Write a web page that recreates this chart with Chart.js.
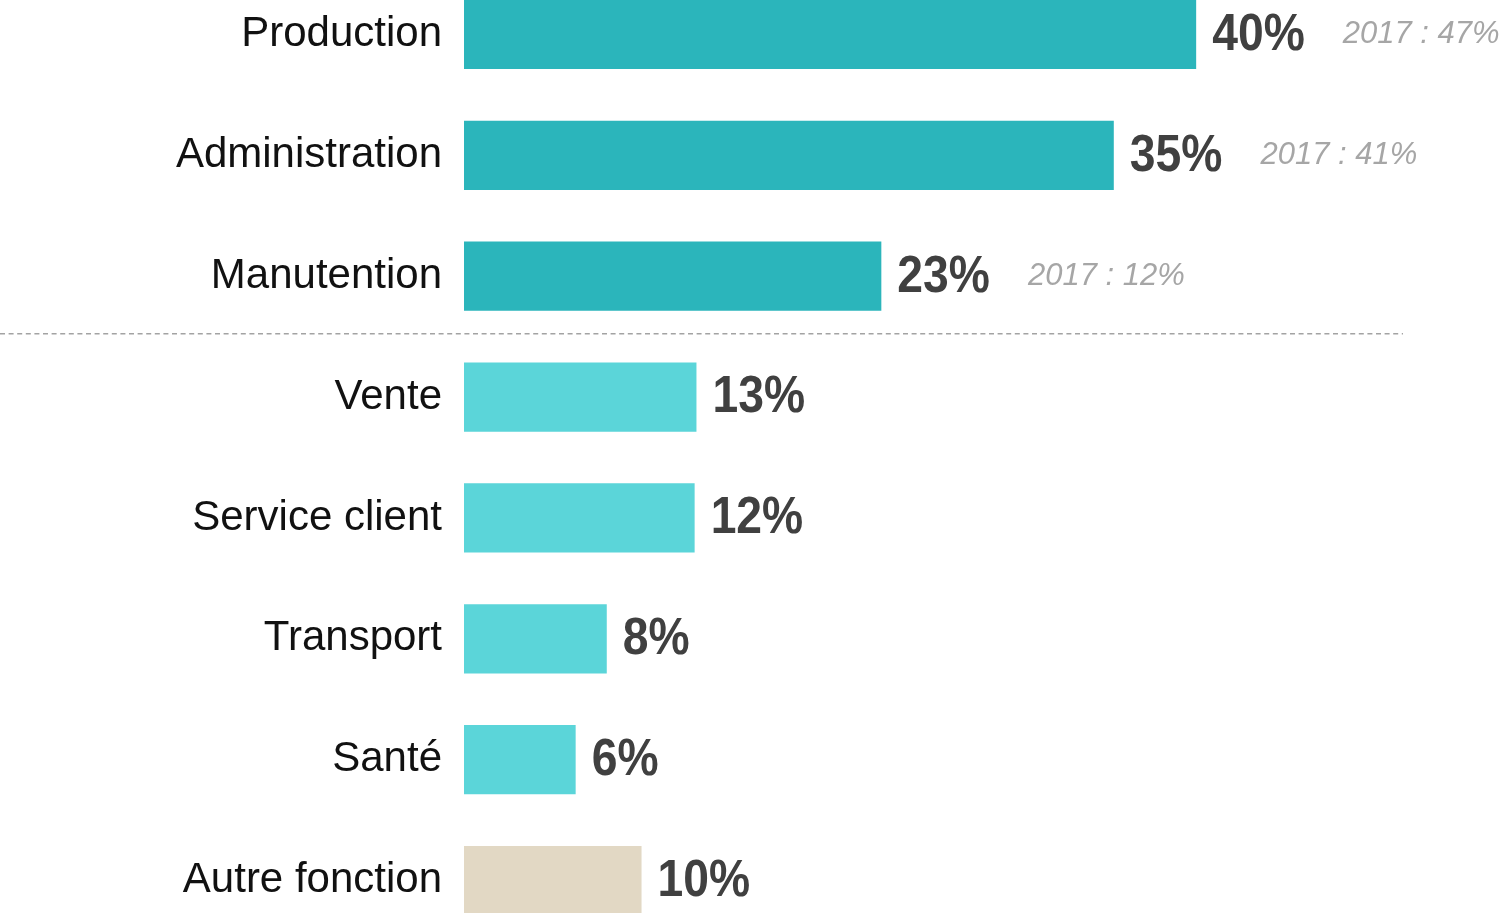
<!DOCTYPE html>
<html><head><meta charset="utf-8">
<script src="https://cdn.jsdelivr.net/npm/chart.js@4"></script>
<style>
html,body{margin:0;padding:0;overflow:hidden;background:#fff;width:1512px;height:913px}
#wrap{position:absolute;left:0;top:-26px;width:1512px;height:967px}
</style></head><body>
<div id="wrap"><canvas id="c"></canvas></div>
<script>
const categories = ['Production','Administration','Manutention','Vente','Service client','Transport','Santé','Autre fonction'];
const values = [40.0, 35.5, 22.8, 12.7, 12.6, 7.8, 6.1, 9.7];
const valueLabels = ['40%','35%','23%','13%','12%','8%','6%','10%'];
const previousLabels = ['2017 : 47%','2017 : 41%','2017 : 12%',null,null,null,null,null];
const groups = ['main','main','main','other','other','other','other','rest'];
const groupColors = {main:'#2bb5bb', other:'#5bd5d9', rest:'#e2d8c4'};
const separatorAfter = 2;

const FONT = "'Liberation Sans', Arial, sans-serif";

const labelPlugin = {
  id: 'labels',
  afterDatasetsDraw(chart) {
    const ctx = chart.ctx;
    const meta = chart.getDatasetMeta(0);
    const ys = chart.scales.y;
    // dashed separator
    const sy = (ys.getPixelForValue(separatorAfter) + ys.getPixelForValue(separatorAfter + 1)) / 2 - 3;
    ctx.save();
    ctx.strokeStyle = '#a3a3a3';
    ctx.lineWidth = 1.5;
    ctx.setLineDash([5, 3.6]);
    ctx.beginPath();
    ctx.moveTo(0, sy);
    ctx.lineTo(chart.chartArea.right, sy);
    ctx.stroke();
    ctx.restore();

    meta.data.forEach((el, i) => {
      const x = el.x + 16;
      const y = el.y + 1;
      ctx.save();
      ctx.font = 'bold 52px ' + FONT;
      ctx.fillStyle = '#404040';
      ctx.textBaseline = 'middle';
      ctx.textAlign = 'left';
      const sx = 0.89;
      const w = ctx.measureText(valueLabels[i]).width * sx;
      ctx.translate(x, y);
      ctx.scale(sx, 1);
      ctx.fillText(valueLabels[i], 0, 0);
      ctx.restore();
      if (previousLabels[i]) {
        ctx.save();
        ctx.font = 'italic 31px ' + FONT;
        ctx.fillStyle = '#a6a6a6';
        ctx.textBaseline = 'middle';
        ctx.textAlign = 'left';
        ctx.fillText(previousLabels[i], x + w + 38, el.y);
        ctx.restore();
      }
    });
  }
};

new Chart(document.getElementById('c'), {
  type: 'bar',
  data: {
    labels: categories,
    datasets: [{
      data: values,
      backgroundColor: groups.map(g => groupColors[g]),
      borderWidth: 0,
      barPercentage: 1,
      categoryPercentage: 0.572
    }]
  },
  options: {
    indexAxis: 'y',
    responsive: true,
    maintainAspectRatio: false,
    animation: false,
    layout: { padding: { left: 0, right: 109, top: 0, bottom: 0 } },
    plugins: { legend: { display: false }, tooltip: { enabled: false } },
    scales: {
      x: { min: 0, max: 51.3, display: false },
      y: {
        grid: { display: false, drawTicks: false },
        border: { display: false },
        ticks: { color: '#111111', font: { family: FONT, size: 42 }, padding: 22 },
        afterFit(scale) { scale.width = 464; scale.paddingTop = 0; scale.paddingBottom = 0; }
      }
    }
  },
  plugins: [labelPlugin]
});
</script>
</body></html>
